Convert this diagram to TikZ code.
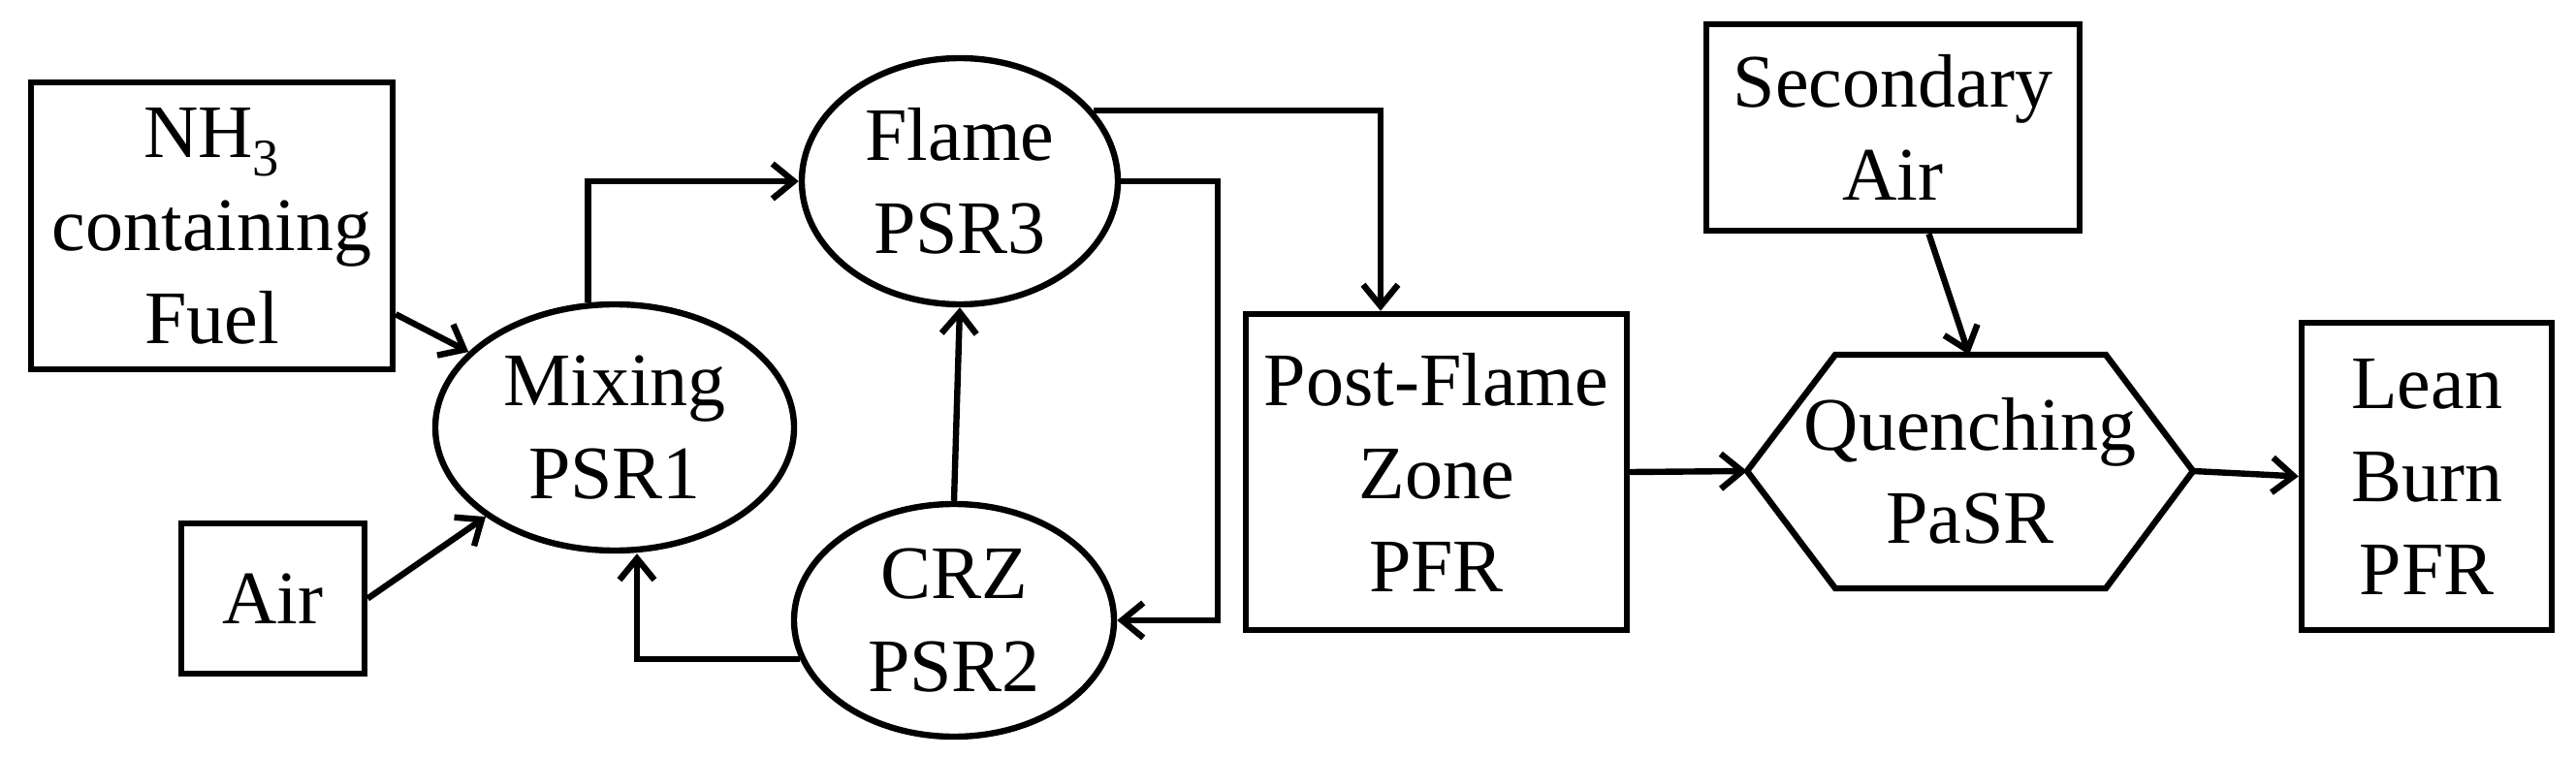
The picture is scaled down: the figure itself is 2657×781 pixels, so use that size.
\documentclass[tikz,border=0pt]{standalone}
\usepackage{fontspec}
\setmainfont{Liberation Serif}
\usetikzlibrary{shapes.geometric,arrows.meta,calc}
\begin{document}
\begin{tikzpicture}[x=0.5pt,y=-0.5pt,
  every node/.style={font=\fontsize{39}{48}\selectfont, align=center, inner sep=0pt},
  box/.style={draw, line width=3.2pt, rectangle},
  ell/.style={draw, line width=3.2pt, ellipse},
  line/.style={line width=3.2pt},
  arr/.style={line width=3.2pt, -{Straight Barb[length=11pt,width=18pt,line width=3.2pt]}}]
\useasboundingbox (0,0) rectangle (2657,781);
\node[box, minimum width=373pt/2, minimum height=296pt/2] (nh3) at (218.5,233) {NH\textsubscript{3}\\containing\\Fuel};
\node[box, minimum width=189pt/2, minimum height=155pt/2] (air) at (281.5,617.5) {Air};
\node[ell, minimum width=370pt/2, minimum height=254pt/2] (mix) at (634,441) {Mixing\\PSR1};
\node[ell, minimum width=326pt/2, minimum height=254pt/2] (flame) at (990,187) {Flame\\PSR3};
\node[ell, minimum width=330pt/2, minimum height=240pt/2] (crz) at (984,640) {CRZ\\PSR2};
\node[box, minimum width=393pt/2, minimum height=326pt/2] (post) at (1481.5,487) {Post-Flame\\Zone\\PFR};
\node[box, minimum width=385pt/2, minimum height=213pt/2] (sec) at (1952.5,131.5) {Secondary\\Air};
\coordinate (hl) at (1802,486);
\coordinate (hr) at (2262,486);
\coordinate (htop) at (2031,366);
\draw[line, line join=miter] (hl) -- (1893,366) -- (2172,366) -- (hr) -- (2172,607) -- (1893,607) -- cycle;
\node (quench) at (2032,486) {Quenching\\PaSR};
\node[box, minimum width=258pt/2, minimum height=317pt/2] (lean) at (2503,491.5) {Lean\\Burn\\PFR};

\draw[arr] ($(nh3.south east)+(0,-60)$) -- (mix);
\draw[arr] (air.east) -- (mix);
\draw[arr] (mix.102) |- (flame.west);
\draw[arr] (flame.28) -| ($(post.north west)!0.356!(post.north east)$);
\draw[arr] (flame.east) -- ++(100,0) |- (crz.east);
\draw[arr] (crz.north) -- (flame.south);
\draw[arr] (crz.194) -| ($(mix.south)+(23,0)$);
\draw[arr] ($(sec.south)+(37,0)$) -- (htop);
\draw[arr] (post.east) -- (hl);
\draw[arr] (hr) -- (lean.west);
\end{tikzpicture}
\end{document}
